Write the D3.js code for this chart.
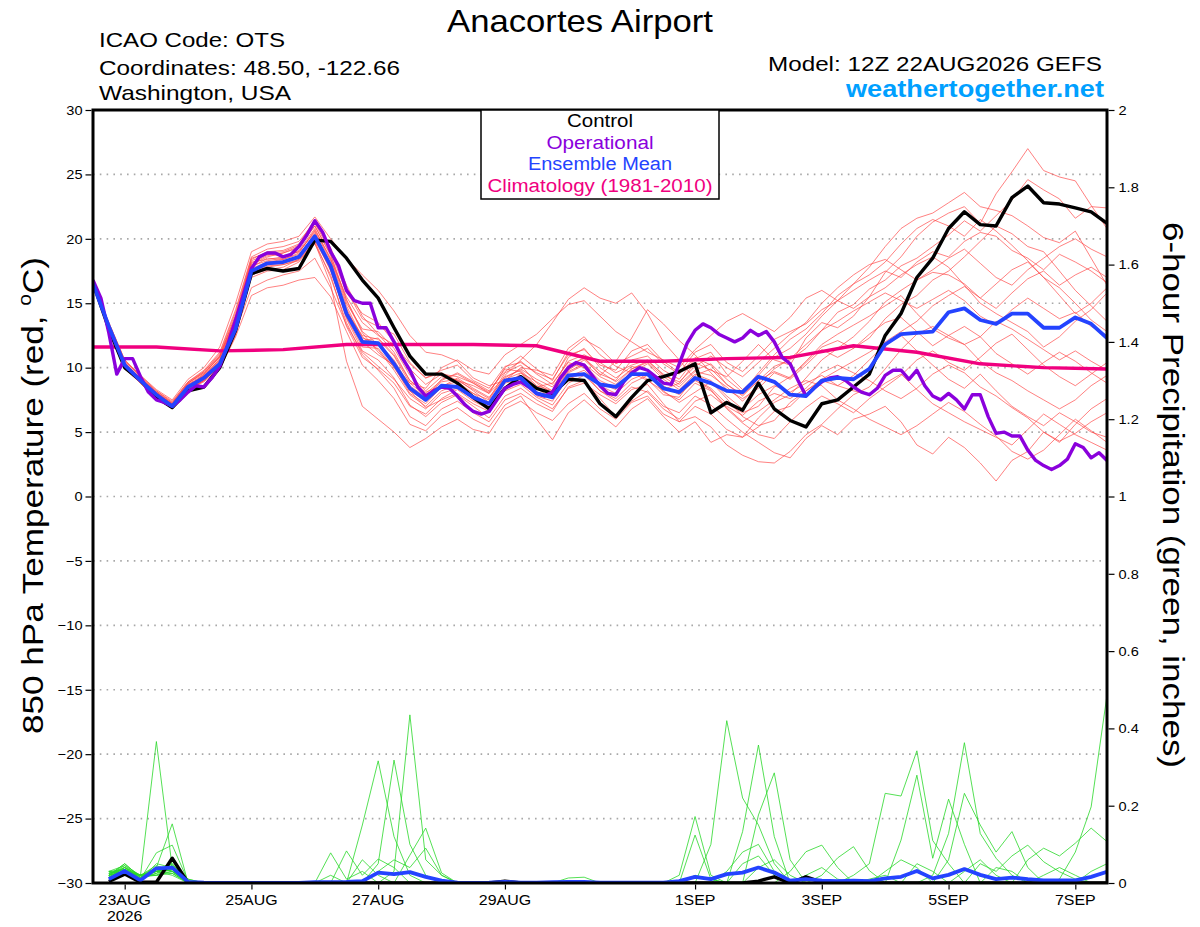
<!DOCTYPE html>
<html><head><meta charset="utf-8">
<script src="https://cdn.jsdelivr.net/npm/d3@7"></script>
<style>
html,body{margin:0;padding:0;background:#fff;}
svg{display:block;font-family:"Liberation Sans",Arial,Helvetica,sans-serif;}
</style>
</head><body>
<svg id="chart" width="1200" height="927"></svg>
<script>
// ---------------- DATA ----------------
const runStartUTC = [2026, 7, 22, 12];          // 12Z 22AUG2026
const forecastHours = 384;
const tempStepHours = 6;
const operStepHours = 3;
const climoStepHours = 24;
const precipFirstStep = 1;                      // precip starts at +6h

const titleText = "Anacortes Airport";
const infoLines = ["ICAO Code: OTS", "Coordinates: 48.50, -122.66", "Washington, USA"];
const modelText = "Model: 12Z 22AUG2026 GEFS";
const siteText = "weathertogether.net";
const legendLabels = ["Control", "Operational", "Ensemble Mean", "Climatology (1981-2010)"];

const tempTicks = [-30,-25,-20,-15,-10,-5,0,5,10,15,20,25,30];
const precipTicks = [0,0.2,0.4,0.6,0.8,1,1.2,1.4,1.6,1.8,2];
const dateTicks = ["2026-08-23","2026-08-25","2026-08-27","2026-08-29","2026-09-01","2026-09-03","2026-09-05","2026-09-07"];
const dateTickLabels = ["23AUG","25AUG","27AUG","29AUG","1SEP","3SEP","5SEP","7SEP"];
const yearLabel = "2026";

// 850 hPa temperature, 6-hourly
const controlTemp = [16.6,13.0,10.0,9.0,7.7,6.9,8.2,8.5,10.0,12.9,
 17.3,17.7,17.5,17.7,19.9,19.8,
 18.5,16.8,15.4,13.1,10.9,9.5,9.5,8.8,7.7,6.8,
 8.4,9.3,8.4,8.0,9.1,9.0,7.2,6.2,7.7,9.0,9.3,9.7,10.3,6.5,7.3,6.7,8.8,6.8,5.9,5.4,7.2,7.5,8.5,9.5,
 12.5,14.2,17.0,18.5,20.8,22.1,21.1,21.0,23.2,24.1,22.8,22.7,22.4,22.1,21.2];

const meanTemp = [16.5,13.2,10.2,9.0,7.9,7.0,8.5,9.2,10.3,13.0,
 17.5,18.1,18.2,18.6,20.2,17.9,
 14.2,12.0,11.9,10.3,8.4,7.5,8.6,8.5,7.7,7.2,
 9.0,9.2,8.0,7.7,9.4,9.5,8.7,8.5,9.5,9.5,8.4,8.1,9.2,8.8,8.2,8.1,9.3,8.9,7.9,7.8,9.0,9.2,9.1,9.9,
 11.8,12.6,12.7,12.8,14.3,14.6,13.7,13.4,14.2,14.2,13.1,13.1,13.9,13.4,12.3];

// operational, 3-hourly
const operationalTemp = [16.8,15.4,12.7,9.5,10.7,10.7,9.3,8.1,7.5,7.3,
 7.0,7.5,8.1,8.6,8.5,9.2,10.1,11.8,13.7,15.7,
 17.7,18.6,18.9,18.9,18.6,18.8,19.4,20.3,21.4,20.5,
 19.0,17.9,16.0,15.2,15.0,15.0,13.1,13.1,12.0,10.8,
 9.8,8.5,7.8,8.2,8.5,8.4,7.8,7.1,6.6,6.4,
 6.6,7.5,8.4,8.7,8.9,8.5,8.0,7.8,8.1,9.2,
 10.0,10.4,10.2,9.4,8.6,8.0,7.9,8.9,9.6,10.0,
 9.8,9.3,8.8,8.7,10.3,11.9,12.9,13.4,13.1,12.6,
 12.3,12.0,12.3,12.9,12.5,12.8,12.0,10.8,10.3,9.0,
 7.8,8.4,8.9,9.2,9.3,9.0,8.5,8.1,7.9,8.4,
 9.4,9.8,9.8,9.1,9.8,8.6,7.8,7.5,8.0,7.5,
 6.8,7.9,7.9,6.2,4.9,5.0,4.7,4.7,3.6,2.8,
 2.4,2.1,2.4,2.9,4.1,3.8,3.0,3.4,2.8];

// climatology, daily
const climoTemp = [11.6,11.6,11.3,11.4,11.8,11.8,11.8,11.7,10.5,10.5,10.7,10.8,11.7,11.2,10.3,10.0,9.9];

// ensemble members, 6-hourly
const memberTemps = [
 [16.4,13.5,10.6,9.3,8.0,7.2,8.8,9.6,10.8,13.8, 18.0,18.6,18.9,19.3,21.0,18.8, 15.3,12.8,11.8,10.5,8.2,6.9,7.5,8.0,7.2,6.6,
  8.3,9.6,8.9,8.2,10.8,11.5,10.0,9.2,10.1,9.8,8.3,8.8,10.4,9.8,9.3,10.5,11.8,10.6,10.2,12.3,13.5,13.1,14.0,15.5,
  17.4,18.6,20.2,21.3,22.0,22.5,21.2,23.5,25.2,27.0,25.3,24.8,24.5,22.6,20.8],
 [16.6,13.0,10.0,8.8,7.6,6.9,8.3,9.0,10.0,12.5, 17.2,17.8,18.0,18.3,19.8,17.0, 13.5,11.0,9.8,8.4,6.2,5.5,6.8,7.4,6.5,5.8,
  7.5,8.0,7.2,6.6,8.5,9.0,7.6,6.2,7.4,8.2,7.0,6.5,7.8,7.1,6.0,5.0,4.2,3.4,3.0,4.5,5.5,4.8,6.0,6.4,
  7.0,5.8,4.0,3.3,4.6,3.8,2.6,1.2,2.8,3.5,5.0,4.2,5.6,6.8,7.6],
 [16.5,13.3,10.3,9.2,8.1,7.1,8.6,9.4,10.6,13.4, 17.8,18.5,18.4,18.9,20.7,18.5, 15.0,13.0,12.8,11.5,9.4,8.2,9.3,9.0,8.3,7.6,
  9.6,10.2,8.8,8.0,9.8,10.6,9.5,9.0,10.6,10.9,9.8,9.1,10.7,11.2,9.5,8.3,9.4,10.8,11.5,12.6,14.0,15.2,16.5,17.8,
  19.4,20.8,21.6,22.0,22.8,23.6,22.5,22.2,21.8,21.0,20.1,19.7,20.6,18.5,16.4],
 [16.3,13.1,10.4,9.1,7.8,7.0,8.5,9.5,10.9,14.1, 18.2,18.4,18.6,19.0,20.5,17.9, 14.6,12.1,12.3,11.0,9.0,8.1,8.6,8.9,8.0,7.5,
  9.4,10.6,11.8,13.5,15.3,16.2,15.4,15.0,15.8,14.2,12.0,10.6,9.1,8.4,7.2,6.5,7.0,8.5,9.3,10.5,11.8,12.6,13.3,14.0,
  14.8,15.6,14.2,13.0,12.3,11.8,10.5,9.6,9.0,8.2,7.5,6.8,7.5,8.6,9.4],
 [16.7,13.4,10.1,8.9,7.7,7.0,8.4,9.0,10.2,12.8, 17.0,17.5,17.6,18.2,19.7,16.5, 10.5,7.0,6.0,5.0,3.8,4.5,5.4,6.0,5.2,4.9,
  6.8,7.4,6.5,5.9,7.2,8.0,6.8,6.0,7.3,7.8,6.4,5.8,7.0,6.4,5.2,4.6,6.1,7.3,7.9,9.2,10.6,11.5,12.4,13.6,
  15.1,16.0,16.8,17.4,17.2,16.5,15.4,14.6,15.8,16.9,17.5,16.4,17.2,17.8,17.0],
 [16.4,13.2,10.2,9.0,7.9,7.1,8.7,9.3,10.5,13.2, 17.6,18.0,18.2,18.7,20.4,18.1, 14.4,12.4,11.4,9.8,7.9,7.0,8.2,8.7,8.0,7.1,
  8.9,9.4,8.1,7.8,9.6,10.2,9.0,8.4,9.6,10.3,9.1,8.3,9.5,9.0,7.8,6.8,7.9,8.6,8.1,8.8,9.4,8.6,8.2,7.9,
  8.8,9.5,8.3,7.2,6.5,5.8,5.2,4.6,4.0,5.2,6.4,5.6,4.8,4.2,3.6],
 [16.5,13.4,10.5,9.3,8.2,7.4,8.9,9.8,11.2,14.5, 18.6,19.2,19.4,19.8,21.3,19.2, 16.0,13.8,13.2,12.6,10.4,9.2,9.8,10.2,9.0,8.4,
  10.1,10.4,9.6,9.1,11.0,11.4,10.2,9.8,11.3,11.8,10.5,9.6,11.2,11.8,10.4,9.7,10.9,12.2,12.8,13.4,14.5,15.2,16.0,16.8,
  17.5,17.0,18.2,19.0,18.6,19.8,20.5,20.2,19.1,18.5,17.6,18.8,18.2,17.5,16.6],
 [16.6,13.1,10.0,8.8,7.7,6.8,8.2,9.0,10.1,12.7, 17.3,17.9,18.0,18.4,19.9,17.6, 13.8,11.3,10.6,9.2,7.1,6.2,7.3,7.9,7.0,6.1,
  7.8,8.4,7.5,6.8,8.4,8.8,7.9,7.2,8.3,8.7,7.2,5.8,6.2,5.4,4.0,3.2,2.7,2.6,3.5,4.8,5.6,6.8,7.9,8.5,
  9.9,11.4,12.6,13.2,12.5,11.8,12.4,13.6,13.0,12.2,11.4,10.6,11.3,10.5,9.8],
 [16.4,13.3,10.3,9.1,8.0,7.1,8.6,9.3,10.7,13.6, 17.9,18.3,18.5,19.1,20.8,18.4, 15.5,13.5,12.5,11.8,10.3,9.2,9.6,9.0,8.6,8.0,
  9.3,9.8,8.6,8.2,10.1,10.8,9.4,10.5,12.3,14.5,13.4,12.1,11.0,9.6,8.3,7.6,8.4,9.6,9.1,10.2,11.4,10.8,11.5,12.3,
  13.8,14.9,15.6,16.8,17.5,18.6,19.8,21.0,20.4,19.4,19.0,17.5,16.0,14.8,13.6],
 [16.5,13.2,10.1,9.0,7.8,7.0,8.4,9.1,10.3,12.9, 17.4,18.0,18.1,18.5,20.0,17.7, 13.9,11.6,11.5,10.0,8.2,7.4,8.7,8.6,7.5,6.9,
  8.8,9.1,7.8,7.4,9.3,9.8,8.6,8.0,9.1,9.6,8.1,7.5,8.8,8.2,7.0,6.3,7.4,8.0,7.6,8.4,9.6,10.2,9.6,9.0,
  8.2,7.6,8.4,9.5,10.2,9.6,8.5,7.8,6.9,6.1,5.0,4.3,4.9,5.8,6.5],
 [16.6,13.4,10.4,9.2,8.1,7.2,8.7,9.5,10.8,13.7, 18.1,18.7,18.9,19.4,21.2,19.0, 15.8,14.2,13.5,12.0,9.9,8.7,9.5,9.3,8.8,8.1,
  9.9,9.7,8.5,8.8,10.4,10.0,8.8,8.3,9.8,9.1,7.9,7.7,9.4,9.9,8.7,7.8,9.0,10.1,10.6,11.5,12.9,14.3,14.9,16.1,
  16.8,17.9,18.5,19.4,20.3,21.4,20.6,21.8,23.0,24.6,23.8,23.1,21.6,22.5,22.4],
 [16.3,13.0,10.2,9.1,8.0,7.2,8.8,9.6,10.9,13.9, 18.3,18.8,18.7,19.0,20.6,18.3, 14.8,12.3,11.9,10.6,8.6,7.7,9.1,9.5,8.8,8.0,
  10.0,10.9,9.9,9.0,11.2,12.2,11.5,10.3,10.9,11.5,10.3,9.5,10.8,10.2,8.7,7.9,9.0,9.7,9.2,10.4,11.6,12.1,11.5,12.6,
  13.5,13.9,12.8,11.7,12.5,13.2,12.4,11.1,10.3,9.5,10.4,11.2,10.5,9.6,8.8],
 [16.7,13.1,9.9,8.8,7.6,6.9,8.3,8.9,9.9,12.4, 15.6,16.2,16.4,16.8,17.0,15.5, 12.8,10.2,9.0,7.6,5.6,5.1,6.3,6.9,6.0,5.4,
  7.1,7.8,6.0,4.4,6.5,7.5,6.4,5.4,6.8,7.6,6.2,5.0,5.8,4.2,4.8,4.6,5.4,6.6,7.0,8.2,9.0,8.6,9.4,10.6,
  11.8,12.5,11.3,10.2,9.1,8.4,9.5,8.2,7.0,6.2,5.5,6.5,5.8,5.0,4.6],
 [16.4,13.2,10.3,9.2,8.1,7.3,8.8,9.7,11.0,14.0, 18.4,19.0,19.1,19.6,21.5,19.3, 16.4,14.0,12.6,11.2,9.0,8.0,9.0,9.6,8.9,8.2,
  9.7,10.5,9.5,8.7,10.5,11.0,10.4,9.6,10.2,10.6,9.4,8.9,10.1,10.9,10.0,9.3,10.4,11.5,12.6,13.5,15.0,16.2,17.2,18.0,
  18.4,17.6,16.8,17.6,18.5,19.2,18.1,17.0,16.4,17.6,18.5,19.4,20.0,19.2,18.6],
 [16.5,13.3,10.1,8.9,7.8,7.0,8.5,9.2,10.4,13.1, 17.5,18.1,18.3,18.6,20.1,17.5, 14.0,12.0,11.0,10.2,8.8,8.4,10.0,10.6,9.8,9.5,
  11.0,11.8,12.6,13.8,14.9,15.2,14.0,12.8,12.0,11.2,10.6,10.0,11.4,12.5,13.6,14.2,13.5,12.8,13.9,15.4,16.0,15.2,14.6,15.5,
  16.2,17.2,18.0,18.6,17.8,16.4,15.0,14.2,13.5,12.8,11.6,12.4,13.6,14.5,15.8],
 [16.6,13.3,10.2,9.0,7.9,7.1,8.6,9.2,10.4,13.0, 17.2,17.6,17.8,18.4,19.6,17.2, 13.2,10.8,9.9,8.8,7.0,6.4,7.6,8.3,7.4,6.8,
  8.2,8.7,7.7,7.1,8.8,9.4,8.2,7.6,8.8,9.4,8.6,7.9,9.0,8.3,6.8,5.7,4.8,4.5,5.8,6.9,7.8,7.2,6.5,7.6,
  8.5,9.4,10.6,11.3,10.4,9.8,10.8,11.9,12.6,11.4,10.2,9.3,8.6,9.5,10.4],
 [16.5,13.5,10.6,9.4,8.2,7.3,8.9,9.7,11.1,14.3, 18.5,18.9,19.0,19.5,21.0,18.7, 15.2,12.7,11.2,10.1,8.0,7.2,8.5,9.2,8.4,7.7,
  9.2,9.9,9.1,8.5,10.2,10.7,9.7,8.9,9.9,10.5,9.5,8.7,9.8,10.3,9.1,8.1,9.6,11.0,12.2,13.0,14.2,15.6,16.5,17.2,
  18.2,19.6,20.8,21.5,21.0,20.2,21.5,20.6,19.5,18.3,17.0,15.6,14.2,15.0,16.2],
 [16.5,13.4,10.5,9.4,8.3,7.5,9.1,10.0,11.6,15.0, 19.0,19.6,19.8,20.2,21.7,20.0, 18.5,17.2,16.0,14.4,12.5,11.2,11.0,10.5,9.2,8.6,
  9.0,10.0,9.8,9.4,11.5,12.4,11.0,10.1,9.6,9.0,8.2,7.3,8.1,8.9,7.6,6.2,5.5,5.9,7.3,8.2,9.1,9.8,10.5,11.2,
  12.0,12.8,13.6,14.8,15.6,16.3,15.4,16.5,17.6,18.2,17.0,16.2,15.0,13.7,12.8],
 [16.4,13.0,10.0,8.9,7.7,6.9,8.3,9.0,10.2,12.8, 16.2,16.8,17.2,17.5,18.5,16.2, 13.3,11.2,10.1,9.1,7.6,6.8,8.0,8.4,7.6,7.0,
  8.5,9.3,8.4,7.6,9.1,9.6,8.2,7.4,8.5,8.1,6.8,6.0,7.4,7.9,6.9,5.8,6.6,7.5,8.4,9.0,8.6,7.5,6.8,6.0,
  5.4,4.8,5.5,6.4,7.3,6.6,5.6,4.7,3.5,2.9,3.6,4.8,6.0,5.1,4.2],
 [16.6,13.2,10.3,9.1,8.0,7.2,8.6,9.4,10.6,13.3, 17.7,18.2,18.4,18.8,20.3,18.0, 14.3,12.5,12.2,10.9,8.8,7.8,8.9,9.1,8.2,7.3,
  9.1,9.6,8.4,7.9,9.7,10.3,9.3,8.7,9.9,10.4,9.3,8.5,9.7,9.4,8.5,7.4,8.7,9.9,10.7,11.8,12.9,13.6,14.4,15.1,
  15.8,15.2,14.6,15.3,16.0,15.2,14.0,13.3,14.5,15.4,14.6,13.8,14.3,13.2,12.5]
];

// 6-hour precipitation (inches), starting at +6h
const controlPrecip = [0.004,0.023,0.002,0.002,0.064,0,0,0, 0,0,0,0,0,0,0,0, 0,0,0,0,0,0,0,0,
 0,0.005,0,0,0,0,0,0, 0,0,0,0,0,0,0,0, 0,0.005,0.016,0,0.016,0.002,0,0, 0,0,0,0,0,0,0,0, 0,0,0,0,0,0,0,0];
const meanPrecip = [0.01,0.031,0.007,0.038,0.04,0.003,0.001,0, 0,0,0,0,0,0.002,0.002,0.003,
 0.005,0.027,0.023,0.028,0.016,0.006,0.001,0, 0.001,0.003,0.001,0.001,0.002,0.003,0.003,0.001,
 0.001,0.001,0.001,0.001,0.005,0.016,0.01,0.023, 0.027,0.04,0.027,0.006,0.01,0.006,0.005,0.006,
 0.005,0.012,0.016,0.031,0.012,0.021,0.036,0.021, 0.01,0.014,0.01,0.007,0.007,0.007,0.016,0.029];
const memberPrecips = [
 [0.03,0.045,0.02,0.366,0.04,0.01,0,0, 0,0,0,0,0,0,0,0, 0.15,0.316,0.12,0.02,0,0,0,0, 0,0,0,0,0,0,0,0, 0,0,0,0,0.02,0.172,0.02,0, 0,0,0,0,0,0,0,0, 0,0,0,0,0,0,0,0, 0,0,0,0,0,0,0,0],
 [0.02,0.05,0.015,0.04,0.153,0,0,0, 0,0,0,0,0,0,0,0, 0,0.05,0.318,0.1,0.02,0,0,0, 0,0,0,0,0,0,0,0, 0,0,0,0,0,0.124,0.01,0, 0,0,0,0,0,0,0,0, 0,0,0,0,0,0,0,0, 0,0,0,0,0,0,0,0],
 [0.025,0.035,0.01,0.078,0.098,0.005,0,0, 0,0,0,0,0,0,0,0, 0,0,0.03,0.435,0.06,0.02,0,0, 0,0,0,0,0,0,0,0, 0,0,0,0,0,0,0.1,0.42, 0.22,0.15,0.05,0,0,0,0,0, 0,0,0,0,0,0,0,0, 0,0,0,0,0,0,0,0],
 [0.015,0.04,0.02,0.03,0.05,0,0,0, 0,0,0,0,0,0,0.078,0.01, 0.03,0,0,0,0,0,0,0, 0,0,0,0,0,0,0,0, 0,0,0,0,0,0,0,0, 0.133,0.357,0.12,0,0,0,0,0, 0,0,0,0,0,0,0,0, 0,0,0,0,0,0,0,0],
 [0.02,0.03,0.01,0.05,0.04,0,0,0, 0,0,0,0,0,0,0,0.083, 0.02,0.062,0.04,0,0,0,0,0, 0,0,0,0,0,0,0,0, 0,0,0,0,0,0,0,0, 0,0.176,0.285,0.06,0,0,0,0, 0,0,0,0,0,0,0,0, 0,0,0,0,0,0,0,0],
 [0.03,0.02,0.015,0.025,0.035,0,0,0, 0,0,0,0,0,0,0,0, 0,0,0,0.072,0.142,0.026,0,0, 0,0,0,0,0,0,0,0, 0,0,0,0,0,0,0,0.03, 0.08,0.1,0.03,0,0,0,0,0, 0,0,0,0,0,0,0,0, 0,0,0,0,0,0,0,0],
 [0.01,0.035,0.02,0.02,0.03,0.01,0,0, 0,0,0,0,0,0,0,0, 0,0.03,0.06,0.04,0.09,0.02,0,0, 0,0,0,0,0,0,0,0, 0,0,0,0,0,0.02,0.01,0, 0.05,0.07,0.02,0,0,0,0,0, 0,0,0,0,0,0,0,0, 0,0,0,0,0,0,0,0],
 [0.025,0.04,0.012,0.03,0.02,0,0,0, 0,0,0,0,0,0,0.02,0, 0.06,0.02,0,0,0,0,0,0, 0,0,0,0,0,0,0,0, 0,0,0,0,0,0,0,0, 0,0,0,0.03,0.081,0.098,0.04,0, 0,0,0,0,0,0,0,0, 0,0,0,0,0,0,0,0],
 [0.02,0.03,0.02,0.045,0.03,0.005,0,0, 0,0,0,0,0,0,0,0, 0,0,0,0,0,0,0,0, 0,0,0,0,0,0.013,0.015,0, 0,0,0,0,0,0,0,0, 0,0,0,0,0,0.02,0.065,0.094, 0.032,0,0,0,0,0,0,0, 0,0,0,0,0,0,0,0],
 [0.015,0.025,0.01,0.035,0.045,0,0,0, 0,0,0,0,0,0,0,0, 0,0,0,0,0,0,0,0, 0,0.005,0,0,0,0,0,0, 0,0,0,0,0,0,0,0, 0,0,0,0,0,0,0,0.02, 0.05,0.232,0.225,0.342,0.11,0.05,0,0, 0,0,0,0,0,0,0,0],
 [0.03,0.035,0.02,0.02,0.025,0,0,0, 0,0,0,0,0,0,0,0, 0,0,0,0,0,0,0,0, 0,0,0,0,0,0,0,0, 0,0,0,0,0,0,0,0, 0,0,0,0,0,0,0,0, 0,0,0.111,0.279,0.064,0.217,0.1,0, 0,0,0,0,0,0,0,0],
 [0.02,0.05,0.015,0.03,0.04,0,0,0, 0,0,0,0,0,0,0,0, 0,0,0,0,0,0,0,0, 0,0,0,0,0,0,0,0, 0,0,0,0,0,0,0,0, 0,0,0,0,0,0,0,0, 0,0,0,0,0.02,0.128,0.363,0.128, 0.064,0.02,0,0,0,0,0,0],
 [0.025,0.03,0.02,0.04,0.03,0,0,0, 0,0,0,0,0,0,0,0, 0,0,0,0,0,0,0,0, 0,0,0,0,0,0,0,0, 0,0,0,0,0,0,0,0, 0,0,0,0,0,0,0,0, 0,0,0,0,0,0.06,0.232,0.15, 0.08,0.133,0.04,0,0,0,0,0],
 [0.02,0.04,0.01,0.025,0.05,0.005,0,0, 0,0,0,0,0,0,0,0, 0,0,0,0,0,0,0,0, 0,0,0,0,0,0,0,0, 0,0,0,0,0,0,0,0, 0,0,0,0,0,0,0,0, 0,0,0,0,0,0,0,0.05, 0.03,0.07,0.098,0.055,0.029,0.01,0,0],
 [0.03,0.025,0.02,0.035,0.03,0,0,0, 0,0,0,0,0,0,0,0, 0,0,0,0,0,0,0,0, 0,0,0,0,0,0,0,0, 0,0,0,0,0,0,0,0, 0,0,0,0,0,0,0,0, 0,0,0,0,0,0,0,0, 0,0,0.06,0.09,0.07,0.103,0.142,0.107],
 [0.02,0.03,0.02,0.03,0.04,0,0,0, 0,0,0,0,0,0,0,0, 0,0,0,0,0,0,0,0, 0,0,0,0,0,0,0,0, 0,0,0,0,0,0,0,0, 0,0,0,0,0,0,0,0, 0,0,0,0,0,0,0,0, 0,0,0,0,0.01,0.08,0.197,0.486],
 [0.015,0.04,0.02,0.03,0.035,0,0,0, 0,0,0,0,0,0,0,0, 0,0,0,0,0,0,0,0, 0,0,0,0,0,0,0,0, 0,0,0,0,0,0,0,0, 0,0,0,0,0,0,0,0, 0,0.03,0.06,0.04,0,0,0.03,0.06, 0.02,0,0,0,0,0,0,0],
 [0.025,0.035,0.015,0.02,0.045,0,0,0, 0,0,0,0,0,0,0,0, 0,0,0,0,0,0,0,0, 0,0,0,0,0,0,0,0, 0,0,0,0,0,0,0,0, 0,0,0,0,0.02,0.04,0.01,0, 0,0,0,0,0,0,0,0, 0,0,0,0.02,0.04,0.02,0,0],
 [0.03,0.02,0.02,0.03,0.025,0,0,0, 0,0,0,0,0,0,0,0, 0,0,0,0,0,0,0,0, 0,0,0,0,0,0,0,0, 0,0,0,0,0,0,0,0, 0,0,0,0,0,0,0,0, 0.01,0.02,0,0,0,0,0,0, 0.04,0.03,0,0,0,0,0.03,0.05],
 [0.02,0.045,0.01,0.04,0.03,0,0,0, 0,0,0,0,0,0,0,0, 0,0,0,0,0,0,0,0, 0,0,0,0,0,0,0,0, 0,0,0,0,0,0,0,0, 0,0.04,0.06,0.02,0,0,0,0, 0,0,0,0.05,0.03,0,0,0, 0,0,0,0,0,0,0,0]
];

// ---------------- DRAWING ----------------
const HOUR = 3600e3;
const t0 = Date.UTC(...runStartUTC);
const svg = d3.select("#chart");
const L = 93, R = 1107, T = 110, B = 883;

const x = d3.scaleUtc().domain([t0, t0 + forecastHours * HOUR]).range([L, R]);
const yT = d3.scaleLinear().domain([-30, 30]).range([B, T]);
const yP = d3.scaleLinear().domain([0, 2]).range([B, T]);

const colors = {member:"#ff4444", green:"#2ad82a", control:"#000000", oper:"#8a00dc", mean:"#2443ff", climo:"#f0007f", grid:"#a8a8a8", site:"#00a0ff"};

svg.append("rect").attr("width",1200).attr("height",927).attr("fill","#fff");
svg.append("clipPath").attr("id","plotclip").append("rect").attr("x",L).attr("y",T).attr("width",R-L).attr("height",B-T);

// gridlines
svg.append("g").selectAll("line").data(tempTicks.filter(v => v > -30 && v < 30)).join("line")
  .attr("x1", L).attr("x2", R).attr("y1", d => yT(d)).attr("y2", d => yT(d))
  .attr("stroke", colors.grid).attr("stroke-width", 1.6).attr("stroke-dasharray", "1.6,5.2");

const plot = svg.append("g").attr("clip-path","url(#plotclip)");
const lineT = (step) => d3.line().x((d,i) => x(t0 + i*step*HOUR)).y(d => yT(d));
const lineP = d3.line().x((d,i) => x(t0 + (i+precipFirstStep)*tempStepHours*HOUR)).y(d => yP(d));

// ensemble members
plot.append("g").selectAll("path").data(memberTemps).join("path")
  .attr("d", lineT(tempStepHours)).attr("fill","none")
  .attr("stroke", colors.member).attr("stroke-width",0.8).attr("stroke-opacity",0.85).attr("stroke-linejoin","round");
plot.append("g").selectAll("path").data(memberPrecips).join("path")
  .attr("d", lineP).attr("fill","none")
  .attr("stroke", colors.green).attr("stroke-width",0.8).attr("stroke-linejoin","round");

// climatology, control, operational, mean
plot.append("path").datum(climoTemp).attr("d", lineT(climoStepHours)).attr("fill","none")
  .attr("stroke", colors.climo).attr("stroke-width",3.4).attr("stroke-linejoin","round");
plot.append("path").datum(controlTemp).attr("d", lineT(tempStepHours)).attr("fill","none")
  .attr("stroke", colors.control).attr("stroke-width",3.4).attr("stroke-linejoin","round");
plot.append("path").datum(controlPrecip).attr("d", lineP).attr("fill","none")
  .attr("stroke", colors.control).attr("stroke-width",3.4).attr("stroke-linejoin","round");
plot.append("path").datum(operationalTemp).attr("d", lineT(operStepHours)).attr("fill","none")
  .attr("stroke", colors.oper).attr("stroke-width",3.4).attr("stroke-linejoin","round");
plot.append("path").datum(meanTemp).attr("d", lineT(tempStepHours)).attr("fill","none")
  .attr("stroke", colors.mean).attr("stroke-width",3.8).attr("stroke-linejoin","round");
plot.append("path").datum(meanPrecip).attr("d", lineP).attr("fill","none")
  .attr("stroke", colors.mean).attr("stroke-width",3.8).attr("stroke-linejoin","round");

// frame
svg.append("rect").attr("x",L).attr("y",T).attr("width",R-L).attr("height",B-T)
  .attr("fill","none").attr("stroke","#000").attr("stroke-width",3);

// axes
const fmtP = d3.format("~g");
const axL = svg.append("g").attr("transform",`translate(${L-1.5},0)`)
  .call(d3.axisLeft(yT).tickValues(tempTicks).tickSize(6).tickPadding(3).tickFormat(d3.format("d")));
const axR = svg.append("g").attr("transform",`translate(${R+1.5},0)`)
  .call(d3.axisRight(yP).tickValues(precipTicks).tickSize(6).tickPadding(4).tickFormat(fmtP));
const dateVals = dateTicks.map(s => new Date(s + "T00:00:00Z"));
const axB = svg.append("g").attr("transform",`translate(0,${B+1.5})`)
  .call(d3.axisBottom(x).tickValues(dateVals).tickSize(5).tickFormat(""));
[axL, axR, axB].forEach(a => {
  a.select(".domain").remove();
  a.selectAll(".tick line").attr("stroke","#000").attr("stroke-width",1.2);
  a.selectAll(".tick text").attr("font-family",'"Liberation Sans",Arial,sans-serif').attr("font-size",13.5).attr("fill","#000");
});

const bottomLabels = svg.append("g").attr("font-size",14.5).attr("text-anchor","middle").attr("fill","#000");
bottomLabels.selectAll("text").data(dateVals).join("text")
  .attr("x", d => x(d)).attr("y", 905).text((d,i) => dateTickLabels[i]);
bottomLabels.append("text").attr("x", x(dateVals[0])).attr("y", 921).text(yearLabel);

// stretch helper (reference glyphs are wider than Arial)
function widen(sel, k){ sel.each(function(){ const w = this.getComputedTextLength(); d3.select(this).attr("textLength", w*k).attr("lengthAdjust","spacingAndGlyphs"); }); }
widen(bottomLabels.selectAll("text"), 1.1);
widen(axL.selectAll(".tick text"), 1.08);
widen(axR.selectAll(".tick text"), 1.08);

// titles
function txt(str, xx, yy, size, len, opts = {}) {
  const t = svg.append("text").attr("x", xx).attr("y", yy).attr("font-size", size)
    .attr("fill", opts.fill || "#000").attr("font-weight", opts.weight || "normal").text(str);
  if (len) t.attr("textLength", len).attr("lengthAdjust","spacingAndGlyphs");
  return t;
}
txt(titleText, 447, 32, 32, 266);
txt(infoLines[0], 99, 47, 21, 186);
txt(infoLines[1], 99, 75, 21, 301);
txt(infoLines[2], 99, 100, 21, 192);
txt(modelText, 768, 71, 21, 334);
txt(siteText, 846, 97, 24, 258, {fill: colors.site, weight: "bold"});

// legend
svg.append("rect").attr("x",481).attr("y",T).attr("width",238).attr("height",89)
  .attr("fill","#fff").attr("stroke","#000").attr("stroke-width",1.5);
const legColors = [colors.control, colors.oper, colors.mean, colors.climo];
const legWidths = [66, 107, 144, 225];
legendLabels.forEach((lab, i) => {
  txt(lab, 600 - legWidths[i]/2, 127 + i*21.6, 18, legWidths[i], {fill: legColors[i]});
});

// axis titles
const lt = svg.append("text").attr("transform","translate(43,496) rotate(-90)")
  .attr("x", -238).attr("y", 0).attr("font-size", 30).attr("fill","#000")
  .attr("textLength", 477).attr("lengthAdjust","spacingAndGlyphs");
lt.append("tspan").text("850 hPa Temperature (red, ");
lt.append("tspan").attr("font-size",18).attr("dy",-12).text("o");
lt.append("tspan").attr("dy",12).text("C)");

svg.append("text").attr("transform","translate(1163,495) rotate(90)")
  .attr("x", -273).attr("y", 0).attr("font-size", 30).attr("fill","#000")
  .attr("textLength", 546).attr("lengthAdjust","spacingAndGlyphs")
  .text("6-hour Precipitation (green, inches)");
</script>
</body></html>
